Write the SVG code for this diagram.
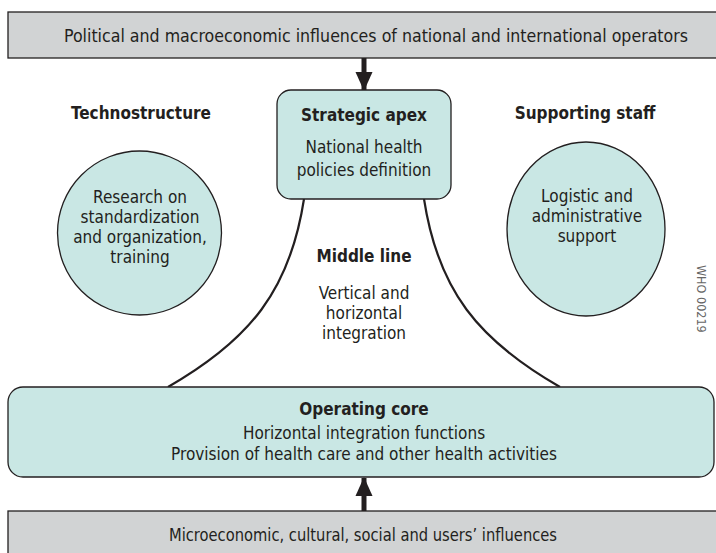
<svg xmlns="http://www.w3.org/2000/svg" width="716" height="553" viewBox="0 0 716 553">
<style>
text{font-family:"Liberation Sans Narrow","DejaVu Sans Condensed","Liberation Sans",sans-serif;fill:#231f20;text-anchor:middle;font-size:17px}
.b{font-weight:bold}
.bar{fill:#d1d3d4;stroke:#231f20;stroke-width:1.3}
.node{fill:#c9e7e4;stroke:#231f20;stroke-width:1.3}
.curve{fill:none;stroke:#231f20;stroke-width:2.2}
.arrow{stroke:#231f20;stroke-width:5;fill:none}
.code{font-size:12.5px;fill:#666;text-anchor:start}
</style>
<defs>
<marker id="ah" markerUnits="userSpaceOnUse" markerWidth="19" markerHeight="20" refX="18" refY="8.5" orient="auto" viewBox="0 0 19 17">
<polygon points="0,0 19,8.5 0,17" fill="#231f20"/>
</marker>
</defs>
<g id="top-influences">
<rect class="bar" x="8" y="12" width="720" height="46"/>
<text x="376" y="42" textLength="624" lengthAdjust="spacingAndGlyphs">Political and macroeconomic influences of national and international operators</text>
</g>
<g id="bottom-influences">
<rect class="bar" x="8" y="511" width="720" height="50"/>
<text x="363" y="541" textLength="388" lengthAdjust="spacingAndGlyphs">Microeconomic, cultural, social and users’ influences</text>
</g>
<g id="connectors">
<line class="arrow" x1="364" y1="58" x2="364" y2="90" marker-end="url(#ah)"/>
<line class="arrow" x1="364" y1="511" x2="364" y2="478" marker-end="url(#ah)"/>
<path class="curve" d="M304,199 C290,290 250,340 168,387"/>
<path class="curve" d="M424,199 C438,290 478,340 560,387"/>
</g>
<g id="strategic-apex">
<rect class="node" x="277" y="90" width="174" height="109" rx="14"/>
<text class="b" x="364" y="121">Strategic apex</text>
<text x="364" y="153">National health</text>
<text x="364" y="176">policies definition</text>
</g>
<g id="technostructure">
<text class="b" x="141" y="119">Technostructure</text>
<ellipse class="node" cx="139.5" cy="233" rx="82" ry="82"/>
<text x="140" y="203">Research on</text>
<text x="140" y="223">standardization</text>
<text x="140" y="243">and organization,</text>
<text x="140" y="263">training</text>
</g>
<g id="supporting-staff">
<text class="b" x="585" y="119">Supporting staff</text>
<ellipse class="node" cx="586" cy="229" rx="79" ry="87"/>
<text x="587" y="202">Logistic and</text>
<text x="587" y="222">administrative</text>
<text x="587" y="242">support</text>
</g>
<g id="middle-line">
<text class="b" x="364" y="262">Middle line</text>
<text x="364" y="299">Vertical and</text>
<text x="364" y="319">horizontal</text>
<text x="364" y="339">integration</text>
</g>
<g id="operating-core">
<rect class="node" x="8" y="387" width="706" height="90" rx="15"/>
<text class="b" x="364" y="415">Operating core</text>
<text x="364" y="439">Horizontal integration functions</text>
<text x="364" y="460">Provision of health care and other health activities</text>
</g>
<text class="code" transform="translate(697,265) rotate(90)">WHO 00219</text>
</svg>
